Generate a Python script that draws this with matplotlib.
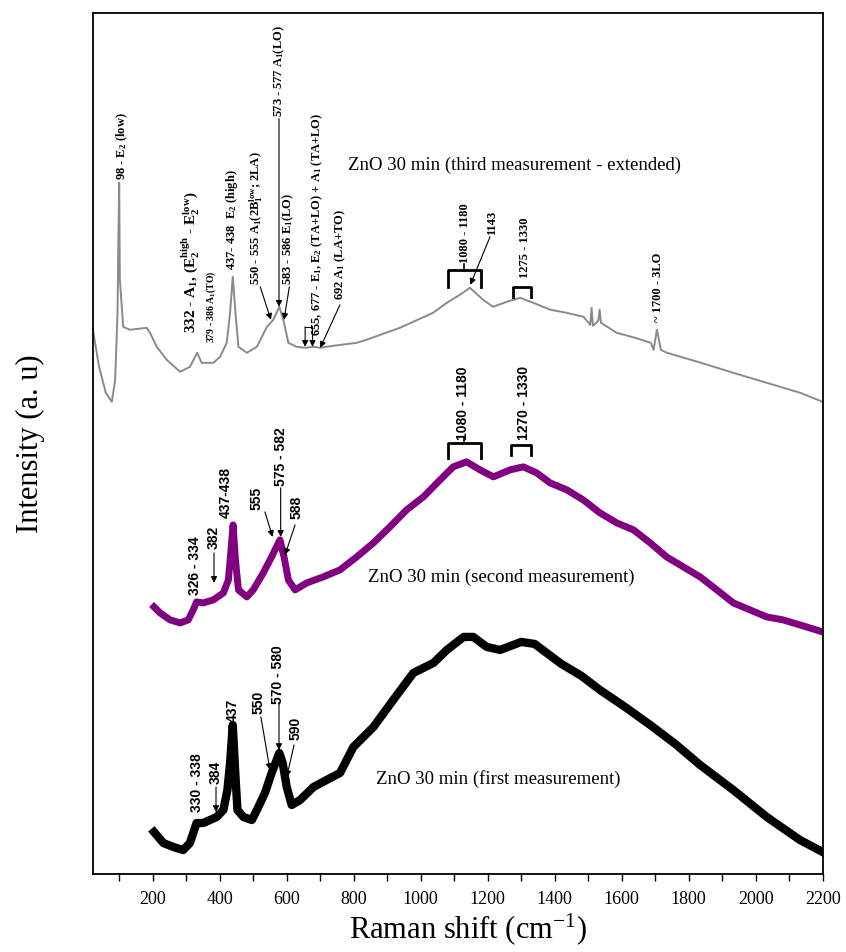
import matplotlib
matplotlib.use("Agg")
import matplotlib.pyplot as plt
import numpy as np

plt.rcParams['font.family'] = ['Liberation Serif', 'DejaVu Serif']
plt.rcParams['mathtext.fontset'] = 'custom'
plt.rcParams['mathtext.rm'] = 'Liberation Serif'
plt.rcParams['mathtext.bf'] = 'Liberation Serif:bold'
plt.rcParams['mathtext.default'] = 'regular'

# third measurement (extended), grey
shift_3 = [20, 40, 60, 78, 88, 95, 98, 100, 102, 112, 132, 182, 192, 212, 242, 282, 311, 333,
           346, 381, 401, 421, 431, 439, 447, 456, 481, 511, 541, 560, 578, 590, 605, 630,
           655, 680, 700, 739, 809, 838, 938, 1037, 1078, 1117, 1147, 1186, 1216, 1257,
           1297, 1336, 1387, 1436, 1486, 1506, 1510, 1514, 1530, 1534, 1538, 1585, 1640,
           1687, 1695, 1705, 1717, 1735, 1837, 1933, 2033, 2133, 2200]
int_3 = [547, 507, 481, 472, 494, 561, 644, 691, 594, 547, 544, 546, 541, 527, 514, 502, 507, 521,
         511, 511, 517, 531, 561, 597, 561, 527, 521, 527, 547, 554, 567, 554, 531, 527,
         526, 527, 526, 528, 531, 534, 546, 561, 571, 579, 586, 574, 567, 572,
         576, 571, 564, 561, 557, 549, 566, 548, 553, 564, 551, 541, 536,
         531, 524, 544, 524, 521, 511, 501, 491, 481, 472]

# second measurement, purple
shift_2 = [204, 222, 252, 282, 306, 321, 331, 351, 381, 411, 426, 433, 440, 447, 456, 481, 500,
           530, 555, 565, 580, 592, 605, 625, 660, 709, 759, 809, 859, 908, 958, 1008, 1058,
           1097, 1137, 1177, 1217, 1267, 1306, 1346, 1386, 1436, 1485, 1535, 1585, 1635,
           1685, 1734, 1784, 1834, 1884, 1933, 1983, 2033, 2082, 2132, 2200]
int_2 = [267, 261, 254, 251, 254, 264, 272, 271, 274, 281, 294, 321, 349, 314, 284, 277, 284,
         301, 317, 324, 334, 317, 294, 284, 291, 297, 304, 317, 331, 347, 364, 377, 394,
         407, 412, 404, 397, 404, 407, 401, 391, 384, 374, 361, 351, 344,
         331, 317, 307, 297, 284, 271, 264, 257, 254, 249, 242]

# first measurement, black
shift_1 = [204, 232, 262, 291, 311, 331, 351, 371, 391, 411, 423, 431, 439, 446, 453, 471, 496,
           511, 535, 555, 570, 578, 588, 600, 615, 640, 680, 719, 759, 799, 859, 918, 978,
           1038, 1078, 1128, 1157, 1197, 1237, 1300, 1340, 1380, 1420, 1480, 1535, 1610,
           1685, 1760, 1834, 1933, 2033, 2132, 2200]
int_1 = [42, 31, 27, 24, 31, 51, 51, 54, 57, 64, 84, 111, 149, 104, 64, 57, 54,
         64, 81, 101, 114, 121, 111, 87, 69, 74, 87, 94, 101, 127, 147, 174, 201,
         211, 224, 237, 237, 227, 224, 232, 230, 220, 210, 198, 184, 167,
         149, 130, 109, 84, 57, 34, 22]

series_labels = ["ZnO 30 min (third measurement - extended)",
                 "ZnO 30 min (second measurement)",
                 "ZnO 30 min (first measurement)"]

fig = plt.figure(figsize=(8.46, 9.52), dpi=100)
ax = fig.add_axes([0.1096, 0.0819, 0.8629, 0.9048])

ax.plot(shift_3, int_3, color='#8a8a8a', lw=1.4, solid_joinstyle='round')
ax.plot(shift_2, int_2, color='#800080', lw=5.0, solid_joinstyle='round')
ax.plot(shift_1, int_1, color='black', lw=6.0, solid_joinstyle='round')

ax.set_xlim(21, 2200)
ax.set_ylim(0, 861)
ax.set_yticks([])
ax.set_xticks(np.arange(200, 2201, 200))
ax.set_xticks(np.arange(100, 2200, 200), minor=True)
ax.tick_params(axis='x', which='both', direction='out', length=5, width=1, labelsize=13, pad=7)
for s in ax.spines.values():
    s.set_linewidth(1.3)

ax.set_xlabel("Raman shift (cm$^{-1}$)", fontsize=22, labelpad=6)
ax.xaxis.set_label_coords(0.514, -0.043, transform=ax.transAxes)
ax.xaxis.label.set_va('top')
ax.set_ylabel("Intensity (a. u)", fontsize=22)
ax.yaxis.set_label_coords(-0.065, 0.5)

# series names
ax.text(783, 704, series_labels[0], fontsize=13.5, va='baseline')
ax.text(843, 292, series_labels[1], fontsize=13.5, va='baseline')
ax.text(867, 90, series_labels[2], fontsize=13.5, va='baseline')


def vlabel(x, y, s, size=9, family='Liberation Serif'):
    ax.text(x, y, s, rotation=90, ha='center', va='bottom', fontsize=size,
            fontweight='bold', family=family)


def arrow(x0, y0, x1, y1):
    ax.annotate('', xy=(x1, y1), xytext=(x0, y0),
                arrowprops=dict(arrowstyle='-|>', color='black', lw=0.8,
                                mutation_scale=9, shrinkA=0, shrinkB=0))


def bracket(x0, x1, yb, yt, tick=0):
    ax.plot([x0, x0, x1, x1], [yb, yt, yt, yb], color='black', lw=2)
    if tick:
        xm = (x0 + x1) / 2
        ax.plot([xm, xm], [yt, yt + tick], color='black', lw=1.2)


# grey spectrum assignments
vlabel(108, 694, "98 - E$_2$ (low)")
vlabel(311, 541, "332 - A$_1$, (E$_2^{high}$ - E$_2^{low}$)", size=11)
vlabel(376, 531, "379 - 386 A$_1$(TO)", size=7)
vlabel(436, 604, "437- 438  E$_2$ (high)")
vlabel(510, 589, "550 - 555 A$_1$(2B$_1^{low}$; 2LA)")
arrow(521, 587, 553, 554)
vlabel(577, 757, "573 - 577 A$_1$(LO)")
arrow(577, 755, 577, 567)
vlabel(605, 589, "583 - 586 E$_1$(LO)")
arrow(608, 587, 592, 554)
vlabel(690, 538, "655, 677 - E$_1$, E$_2$ (TA+LO) + A$_1$ (TA+LO)")
ax.plot([655, 677], [547, 547], color='black', lw=0.8)
arrow(655, 547, 655, 527)
arrow(677, 547, 677, 527)
vlabel(759, 574, "692 A$_1$ (LA+TO)")
arrow(759, 569, 700, 526)
bracket(1080, 1180, 587, 604, tick=6)
vlabel(1132, 611, "1080 - 1180")
vlabel(1212, 639, "1143")
arrow(1207, 637, 1148, 589)
bracket(1275, 1330, 577, 587)
vlabel(1311, 596, "1275 - 1330")
vlabel(1708, 552, "~ 1700 - 3LO")

# purple spectrum assignments
sans = 'Liberation Sans'
vlabel(327, 279, "326 - 334", size=10, family=sans)
vlabel(383, 325, "382", size=10, family=sans)
arrow(383, 321, 383, 291)
vlabel(419, 356, "437-438", size=10, family=sans)
vlabel(510, 364, "555", size=10, family=sans)
arrow(535, 362, 558, 337)
vlabel(582, 388, "575 - 582", size=10, family=sans)
arrow(582, 386, 582, 337)
vlabel(628, 355, "588", size=10, family=sans)
arrow(625, 349, 595, 319)
bracket(1080, 1180, 416, 431, tick=6)
vlabel(1126, 434, "1080 - 1180", size=10, family=sans)
bracket(1270, 1330, 419, 429)
vlabel(1309, 434, "1270 - 1330", size=10, family=sans)

# black spectrum assignments
vlabel(332, 62, "330 - 338", size=10, family=sans)
vlabel(389, 90, "384", size=10, family=sans)
arrow(389, 87, 389, 62)
vlabel(439, 152, "437", size=10, family=sans)
vlabel(515, 160, "550", size=10, family=sans)
arrow(523, 157, 550, 104)
vlabel(575, 170, "570 - 580", size=10, family=sans)
arrow(577, 171, 577, 124)
vlabel(625, 134, "590", size=10, family=sans)
arrow(622, 129, 600, 97)

fig.savefig("out.png", dpi=100)
